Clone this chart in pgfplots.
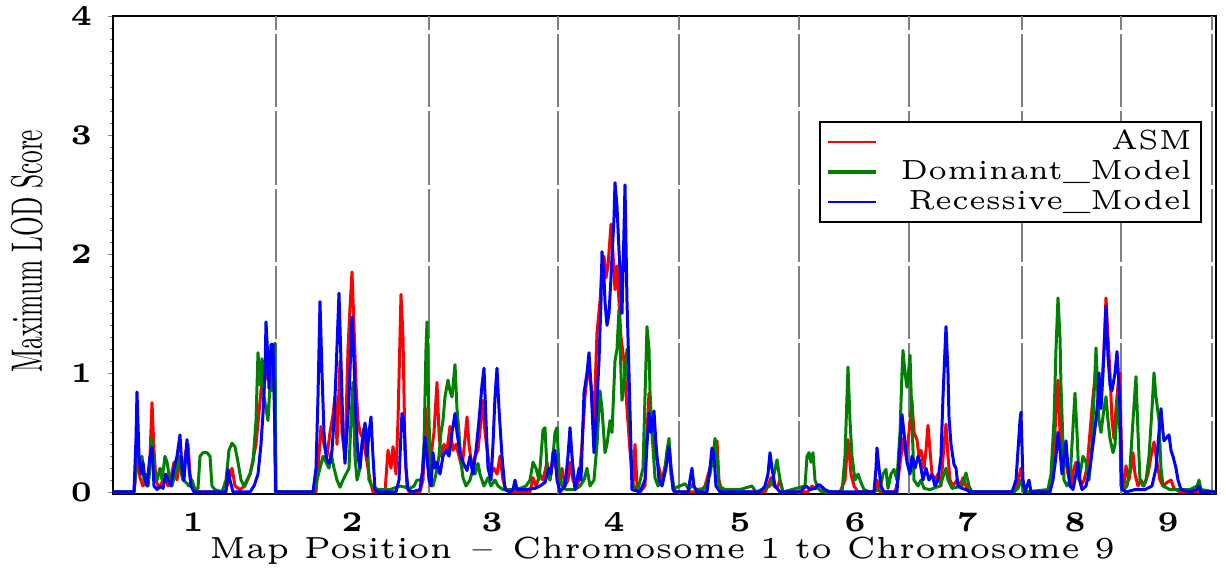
\documentclass[border=0pt]{standalone}
\usepackage{pgfplots}
\pgfplotsset{compat=1.18}
\newcommand\sm[2]{\scalebox{#1}{\fontsize{5}{6}\selectfont #2}}
\newcommand\tk[1]{\scalebox{1.7}{\fontsize{5}{6}\selectfont\bfseries #1}}
\definecolor{dgreen}{RGB}{0,128,0}
\begin{document}
\begin{tikzpicture}
\useasboundingbox (-33.9pt,-22.2pt) rectangle (333.9pt,148.2pt);
\begin{axis}[
  scale only axis, width=330.9pt, height=143.4pt,
  xmin=113, xmax=1216, ymin=-0.017, ymax=4,
  axis line style={line width=0.6pt},
  tick align=outside, tick pos=left,
  major tick length=1.5pt, minor tick length=1pt,
  ytick={0,1,2,3,4}, minor y tick num=9,
  yticklabels={\tk{0},\tk{1},\tk{2},\tk{3},\tk{4}},
  yticklabel style={xshift=-1.2pt},
  xtick={193,352,492,614,740,855,967,1075,1168},
  xticklabels={\tk{1},\tk{2},\tk{3},\tk{4},\tk{5},\tk{6},\tk{7},\tk{8},\tk{9}},
  xtick style={draw=none},
  xticklabel style={anchor=center, yshift=-6.9pt},
  extra x ticks={276,429,558,679,799,909,1022,1121,1212},
  extra x tick labels={},
  extra x tick style={grid=major, major tick length=0pt,
     major grid style={gray, line width=0.5pt, dash pattern=on 22pt off 1.2pt}},
  ylabel={\scalebox{0.76}[1.32]{\fontsize{10}{12}\selectfont Maximum LOD Score}},
  ylabel style={at={(rel axis cs:-0.078,0.508)}, anchor=center},
  xlabel={\sm{1.83}{Map Position \,--\, Chromosome 1 to Chromosome 9}},
  xlabel style={at={(rel axis cs:0.498,-0.118)}, anchor=center},
  legend cell align=right,
  legend style={at={(rel axis cs:0.9873,0.780)}, anchor=north east,
     draw=black, line width=0.6pt, column sep=6pt, inner xsep=2pt, inner ysep=1.5pt,
     nodes={text height=6pt, text depth=1.5pt, inner sep=0.75pt}},
  legend image code/.code={\draw[#1,line width=0.6pt] (0pt,0pt) -- (14.4pt,0pt);},
  every axis plot/.append style={line width=0.9pt, line join=round},
]
\addplot[red] coordinates {
(113,0) (134,0) (136,0.15) (138,0.3) (140,0.12) (143,0.05) (146,0.1) (148,0.05) (150,0.3) (152,0.75) (154,0.35) (156,0.1) (159,0.03) (162,0.08) (165,0.15) (168,0.05) (171,0.12) (174,0.25) (177,0.1) (180,0.3) (183,0.15) (186,0.35) (188,0.4) (190,0.15) (193,0.03) (196,0) (225,0) (229,0.1) (232,0.2) (235,0.05) (240,0.02) (245,0.05) (250,0.15) (253,0.27) (256,0.4) (258,0.58) (261,0.85) (264,1.1) (266,0.95) (268,1.15) (270,0.9) (272,1.1) (274,1.0) (275,0.3) (276,0) (316,0) (318,0.2) (321,0.55) (324,0.4) (327,0.3) (330,0.5) (333,0.65) (335,0.8) (337,0.4) (340,1.1) (342,0.5) (345,0.3) (348,1.2) (350,1.55) (352,1.85) (354,1.4) (356,0.9) (358,0.6) (360,0.5) (363,0.45) (366,0.3) (368,0.2) (370,0.1) (373,0) (385,0) (388,0.35) (391,0.2) (393,0.38) (396,0.15) (398,0.6) (400,1.3) (401,1.66) (403,1.3) (405,0.35) (407,0.05) (409,0) (420,0) (423,0.1) (426,0.7) (428,0.2) (431,0.3) (434,0.5) (437,0.92) (439,0.5) (441,0.3) (444,0.4) (447,0.35) (450,0.55) (453,0.35) (456,0.4) (459,0.3) (462,0.2) (465,0.45) (467,0.63) (469,0.4) (472,0.2) (475,0.3) (478,0.35) (481,0.6) (483,0.77) (485,0.5) (488,0.3) (491,0.15) (494,0.2) (497,0.15) (500,0.3) (503,0.1) (506,0.02) (510,0) (530,0) (533,0.12) (536,0.05) (540,0.15) (543,0.1) (547,0.25) (550,0.1) (553,0.28) (556,0.2) (559,0.05) (562,0.2) (565,0.05) (568,0.1) (570,0.25) (573,0.1) (576,0.03) (579,0.1) (582,0.4) (585,0.8) (588,1.05) (591,0.9) (594,0.6) (597,1.34) (600,1.6) (602,1.9) (604,1.98) (606,1.8) (608,1.9) (611,2.25) (613,2.0) (615,1.7) (617,1.9) (619,1.6) (621,1.3) (624,1.1) (627,0.7) (630,0.35) (633,0.05) (635,0.4) (637,0.05) (640,0) (645,0.05) (647,0.5) (649,0.83) (651,0.6) (653,0.5) (656,0.3) (659,0.2) (662,0.1) (666,0.25) (669,0.38) (671,0.15) (674,0) (700,0) (705,0.05) (710,0.2) (714,0.3) (717,0.43) (719,0.1) (722,0) (765,0) (768,0.05) (771,0.12) (774,0.05) (777,0.03) (780,0.1) (783,0) (808,0) (812,0.05) (816,0.03) (820,0.06) (825,0) (840,0) (845,0.1) (848,0.44) (851,0.15) (854,0.05) (858,0) (875,0) (877,0.1) (880,0) (895,0) (898,0.1) (901,0.3) (903,0.45) (906,0.3) (909,0.5) (912,0.77) (914,0.5) (917,0.44) (919,0.3) (921,0.35) (924,0.2) (926,0.35) (928,0.56) (930,0.35) (932,0.15) (935,0.1) (938,0.15) (941,0.05) (944,0.4) (946,0.57) (948,0.3) (950,0.1) (953,0.05) (957,0.1) (960,0.05) (963,0.12) (966,0.05) (970,0) (1014,0) (1017,0.05) (1021,0.2) (1024,0.03) (1028,0) (1050,0) (1054,0.3) (1056,0.7) (1058,0.94) (1060,0.5) (1062,0.2) (1065,0.3) (1068,0.15) (1071,0.05) (1074,0.2) (1076,0.25) (1078,0.15) (1081,0.05) (1084,0.1) (1087,0.2) (1090,0.5) (1093,0.8) (1096,1.05) (1098,0.9) (1100,0.75) (1102,0.9) (1104,1.2) (1106,1.63) (1108,1.3) (1110,1.0) (1112,0.6) (1114,0.45) (1116,0.7) (1118,0.9) (1120,1.0) (1122,0.1) (1124,0.05) (1126,0.22) (1129,0.1) (1131,0.2) (1133,0.33) (1135,0.15) (1138,0.05) (1141,0.1) (1144,0.05) (1148,0.15) (1151,0.3) (1154,0.42) (1157,0.25) (1160,0.1) (1163,0.05) (1167,0.08) (1171,0.1) (1174,0.03) (1180,0) (1216,0)
};
\addlegendentry{\sm{1.66}{ASM}}
\addplot[dgreen, legend image code/.code={\draw[dgreen,line width=1.2pt] (0pt,0pt) -- (14.4pt,0pt);}] coordinates {
(113,0) (134,0) (136,0.2) (138,0.35) (140,0.25) (142,0.3) (144,0.1) (146,0.15) (148,0.05) (150,0.2) (152,0.45) (154,0.2) (157,0.1) (160,0.2) (162,0.1) (165,0.3) (167,0.25) (169,0.15) (172,0.05) (175,0.15) (178,0.3) (180,0.2) (183,0.1) (186,0.08) (189,0.05) (192,0.1) (195,0.02) (198,0.03) (200,0.3) (203,0.33) (207,0.33) (210,0.3) (212,0.05) (215,0.02) (222,0) (226,0.1) (229,0.35) (232,0.41) (235,0.38) (238,0.25) (241,0.1) (244,0.05) (247,0.1) (250,0.15) (253,0.25) (256,0.6) (258,1.17) (260,0.9) (262,1.12) (264,0.8) (266,0.7) (268,0.6) (270,0.9) (272,0.85) (274,1.2) (275,1.25) (276,0) (314,0) (317,0.1) (320,0.2) (323,0.3) (326,0.25) (329,0.2) (331,0.33) (334,0.2) (337,0.1) (340,0.04) (343,0.1) (346,0.15) (349,0.2) (351,0.6) (353,0.92) (355,0.3) (357,0.1) (360,0.2) (363,0.5) (365,0.57) (367,0.5) (369,0.1) (372,0.05) (378,0.02) (390,0.02) (400,0.05) (410,0.03) (414,0.05) (417,0.1) (420,0.1) (422,0.12) (424,0.4) (426,1.2) (427,1.43) (429,0.6) (431,0.1) (433,0.05) (436,0.15) (439,0.3) (441,0.5) (443,0.6) (445,0.8) (448,0.94) (450,0.85) (452,0.8) (455,1.07) (457,0.7) (459,0.5) (461,0.25) (463,0.12) (466,0.05) (470,0.1) (473,0.2) (475,0.15) (478,0.24) (480,0.15) (484,0.05) (488,0.12) (491,0.05) (495,0.1) (498,0.05) (503,0.02) (512,0.02) (520,0.03) (526,0.05) (530,0.1) (533,0.25) (536,0.2) (539,0.1) (541,0.3) (543,0.52) (545,0.54) (547,0.2) (550,0.1) (553,0.3) (555,0.5) (557,0.54) (559,0.2) (562,0.05) (566,0.02) (575,0.02) (580,0.05) (584,0.1) (587,0.2) (590,0.05) (594,0.1) (597,0.4) (600,0.85) (602,0.7) (605,0.33) (607,0.4) (610,0.6) (612,0.5) (615,1.1) (617,1.2) (619,1.53) (621,1.0) (622,0.77) (624,0.9) (627,1.2) (629,0.8) (631,0.3) (633,0.05) (638,0.02) (643,0.2) (645,0.8) (647,1.39) (649,1.2) (650,0.85) (652,0.5) (655,0.12) (658,0.05) (662,0.1) (665,0.2) (667,0.35) (669,0.45) (671,0.2) (674,0.03) (680,0.05) (685,0.07) (689,0.02) (692,0.06) (696,0.02) (705,0.03) (710,0.15) (713,0.3) (715,0.45) (717,0.3) (719,0.05) (725,0.02) (740,0.02) (752,0.05) (756,0) (770,0.05) (774,0.15) (777,0.27) (780,0.1) (783,0) (805,0.05) (807,0.3) (809,0.33) (811,0.25) (813,0.33) (815,0.1) (818,0.03) (822,0) (842,0) (845,0.3) (847,0.8) (848,1.05) (850,0.6) (852,0.3) (855,0.1) (858,0.15) (861,0.08) (864,0.02) (870,0) (880,0.02) (883,0.15) (886,0.19) (888,0.03) (891,0.15) (894,0.19) (897,0.1) (900,0.5) (902,1.0) (903,1.19) (905,1.0) (907,0.88) (909,1.05) (910,1.15) (912,0.6) (914,0.1) (918,0.05) (921,0.1) (924,0.03) (930,0.02) (940,0.05) (944,0.15) (946,0.2) (948,0.1) (952,0.03) (962,0.05) (966,0.16) (969,0.05) (972,0) (1014,0) (1018,0.03) (1021,0.1) (1024,0) (1048,0.02) (1051,0.15) (1054,0.6) (1056,1.2) (1058,1.63) (1060,1.3) (1061,0.89) (1063,0.4) (1064,0.1) (1067,0.05) (1070,0.1) (1072,0.4) (1075,0.83) (1077,0.5) (1079,0.1) (1081,0.2) (1083,0.3) (1086,0.25) (1089,0.1) (1092,0.4) (1094,0.8) (1096,1.21) (1098,0.8) (1099,0.6) (1101,0.5) (1104,0.7) (1106,0.8) (1108,0.6) (1110,0.45) (1113,0.33) (1115,0.4) (1118,0.8) (1120,0.5) (1121,0.05) (1124,0.02) (1127,0.05) (1130,0.2) (1133,0.6) (1136,0.97) (1138,0.5) (1140,0.1) (1143,0.05) (1146,0.1) (1149,0.3) (1152,0.7) (1154,1.0) (1156,0.8) (1159,0.6) (1161,0.2) (1163,0.05) (1170,0.02) (1180,0.02) (1190,0.02) (1197,0.05) (1199,0.1) (1201,0.02) (1216,0)
};
\addlegendentry{\sm{1.66}{Dominant\_Model}}
\addplot[blue] coordinates {
(113,0) (134,0) (136,0.45) (137,0.84) (139,0.3) (141,0.15) (143,0.25) (145,0.1) (147,0.05) (150,0.3) (152,0.38) (154,0.05) (157,0.02) (160,0.05) (163,0.03) (166,0.15) (168,0.1) (171,0.05) (174,0.2) (177,0.3) (180,0.48) (182,0.2) (184,0.1) (187,0.44) (189,0.2) (191,0.05) (194,0) (226,0) (228,0.19) (230,0.1) (233,0) (250,0) (254,0.05) (258,0.15) (261,0.4) (263,0.66) (265,1.0) (266,1.43) (268,1.1) (269,0.87) (271,1.24) (273,1.24) (274,0.87) (275,0.5) (275.5,0) (313,0) (316,0.2) (318,0.8) (320,1.6) (322,1.0) (324,0.5) (326,0.3) (328,0.25) (330,0.24) (332,0.35) (334,0.6) (336,1.0) (339,1.67) (341,1.1) (343,0.5) (345,0.24) (347,0.5) (349,0.8) (352,1.47) (354,1.1) (356,0.6) (358,0.3) (360,0.2) (362,0.4) (365,0.58) (367,0.3) (369,0.5) (371,0.63) (373,0.3) (375,0.02) (378,0) (396,0) (399,0.1) (401,0.5) (402,0.66) (404,0.6) (406,0.2) (408,0.02) (412,0) (420,0.02) (423,0.2) (425,0.46) (427,0.3) (429,0.1) (431,0.05) (433,0.33) (435,0.2) (437,0.25) (440,0.15) (443,0.3) (446,0.35) (449,0.3) (452,0.5) (455,0.66) (457,0.5) (460,0.33) (463,0.25) (467,0.18) (470,0.3) (473,0.15) (476,0.35) (479,0.6) (482,0.9) (484,1.04) (486,0.6) (488,0.2) (491,0.1) (493,0.4) (495,0.8) (497,1.04) (499,0.7) (502,0.3) (505,0.02) (510,0) (513,0.02) (515,0.1) (517,0.02) (525,0.02) (535,0.03) (540,0.05) (545,0.08) (549,0.2) (551,0.15) (553,0.33) (555,0.35) (557,0.1) (560,0) (565,0.05) (568,0.3) (570,0.54) (572,0.3) (575,0.02) (577,0.1) (579,0.2) (581,0.1) (584,0.83) (587,1.0) (589,1.17) (591,0.9) (594,0.33) (596,0.6) (599,1.1) (601,1.6) (602,2.02) (604,1.8) (605,1.6) (607,1.4) (609,1.5) (611,1.8) (612,1.98) (614,2.3) (615,2.6) (617,2.4) (619,2.03) (621,1.7) (622,1.5) (624,2.2) (625,2.58) (627,1.6) (629,1.0) (630,0.68) (632,0.02) (640,0) (645,0.1) (647,0.4) (649,0.66) (651,0.5) (654,0.68) (656,0.4) (659,0.1) (662,0.05) (666,0.2) (669,0.38) (671,0.2) (673,0.02) (677,0) (688,0) (690,0.1) (692,0.2) (694,0.05) (697,0) (707,0) (710,0.2) (712,0.37) (714,0.3) (716,0.05) (720,0) (760,0) (765,0.05) (768,0.15) (770,0.33) (772,0.2) (775,0.05) (780,0) (800,0) (806,0.05) (810,0.02) (815,0.03) (818,0.06) (821,0.05) (825,0.02) (830,0) (874,0) (876,0.2) (877,0.37) (879,0.2) (881,0.05) (884,0) (897,0) (900,0.4) (902,0.65) (904,0.5) (907,0.25) (910,0.15) (912,0.3) (915,0.2) (918,0.3) (920,0.25) (923,0.1) (926,0.2) (929,0.1) (932,0.15) (935,0.05) (938,0.1) (941,0.3) (943,0.8) (945,1.2) (946,1.39) (948,1.0) (949,0.63) (951,0.4) (954,0.23) (956,0.2) (958,0.05) (962,0.03) (966,0.02) (970,0) (1012,0) (1016,0.1) (1018,0.35) (1020,0.6) (1021,0.67) (1023,0.1) (1025,0) (1029,0.1) (1031,0) (1050,0) (1053,0.1) (1056,0.3) (1058,0.5) (1060,0.35) (1062,0.15) (1064,0.3) (1066,0.43) (1068,0.2) (1070,0.05) (1073,0.02) (1076,0.15) (1078,0.25) (1080,0.1) (1082,0.02) (1086,0.05) (1090,0.2) (1093,0.4) (1096,0.6) (1098,0.8) (1099,1.0) (1101,0.7) (1103,1.0) (1106,1.56) (1108,1.14) (1110,0.9) (1112,0.85) (1113,0.9) (1115,1.0) (1117,1.18) (1119,0.9) (1120,0.7) (1122,0.02) (1126,0) (1135,0.02) (1145,0.02) (1152,0.05) (1156,0.2) (1158,0.4) (1161,0.7) (1163,0.5) (1164,0.43) (1166,0.45) (1169,0.48) (1171,0.35) (1173,0.3) (1176,0.2) (1178,0.1) (1181,0.02) (1190,0) (1197,0.02) (1199,0.05) (1201,0) (1216,0)
};
\addlegendentry{\sm{1.66}{Recessive\_Model}}
\end{axis}
\end{tikzpicture}
\end{document}
